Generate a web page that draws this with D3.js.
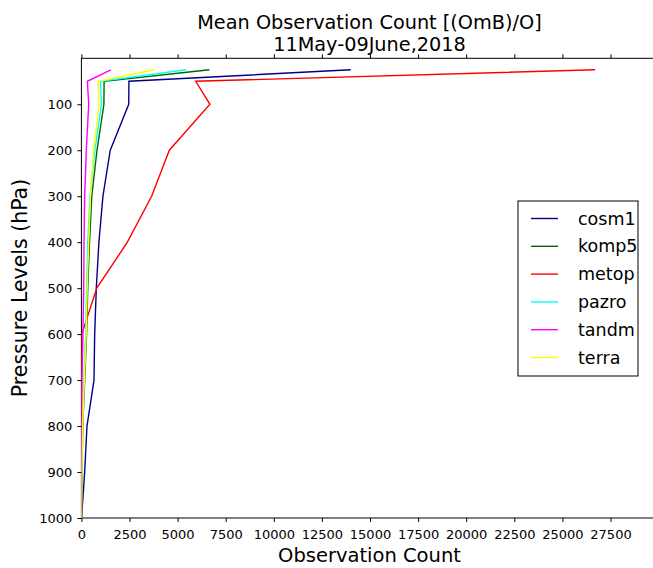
<!DOCTYPE html>
<html>
<head>
<meta charset="utf-8">
<script src="https://cdn.jsdelivr.net/npm/d3@7"></script>
<style>
  html, body { margin: 0; padding: 0; background: #fff; overflow: hidden; }
  svg { display: block; font-family: "DejaVu Sans", sans-serif; }
</style>
</head>
<body>
<svg id="chart" width="653" height="568"></svg>
<script>
// Pressure levels (hPa) shared by every instrument profile
const levels = [25, 50, 100, 200, 300, 400, 500, 600, 700, 800, 900, 1000];

// Mean observation count per level, one array per instrument
const cosm1 = [14000, 2470, 2460, 1500, 1120, 910, 775, 690, 655, 290, 170, 10];
const komp5 = [6650, 1180, 1170, 810, 540, 420, 330, 270, 170, 70, 30, 0];
const metop = [26700, 5940, 6680, 4570, 3650, 2390, 800, 20, 0, 0, 0, 0];
const pazro = [5440, 990, 1040, 700, 450, 330, 270, 220, 130, 50, 20, 0];
const tandm = [1530, 310, 380, 255, 170, 135, 120, 80, 30, 0, 0, 0];
const terra = [3770, 860, 920, 640, 470, 380, 300, 250, 150, 60, 20, 0];

const seriesNames = ["cosm1", "komp5", "metop", "pazro", "tandm", "terra"];
const seriesValues = [cosm1, komp5, metop, pazro, tandm, terra];
const seriesColors = ["#00008b", "#006400", "#ff0000", "#00ffff", "#ff00ff", "#ffff00"];

const xTicks = [0, 2500, 5000, 7500, 10000, 12500, 15000, 17500, 20000, 22500, 25000, 27500];
const yTicks = [100, 200, 300, 400, 500, 600, 700, 800, 900, 1000];

const titleLines = ["Mean Observation Count [(OmB)/O]", "11May-09June,2018"];

const svg = d3.select("#chart");
const margin = { left: 81.4, top: 58.3, right: 658.6, bottom: 518 };

const x = d3.scaleLinear().domain([0, 30000]).range([margin.left, margin.right]);
const y = d3.scaleLinear().domain([0, 1000]).range([margin.top, margin.bottom]);

// Plot frame
svg.append("rect")
  .attr("x", margin.left).attr("y", margin.top)
  .attr("width", margin.right - margin.left)
  .attr("height", margin.bottom - margin.top)
  .attr("fill", "none").attr("stroke", "#000").attr("stroke-width", 1);

// Profiles, clipped to the plot area
svg.append("clipPath").attr("id", "plotclip")
  .append("rect")
  .attr("x", margin.left).attr("y", margin.top)
  .attr("width", margin.right - margin.left)
  .attr("height", margin.bottom - margin.top);

const line = d3.line()
  .x(d => x(d[0]))
  .y(d => y(d[1]));

const plot = svg.append("g").attr("clip-path", "url(#plotclip)");
seriesValues.forEach((vals, i) => {
  plot.append("path")
    .datum(vals.map((v, k) => [v, levels[k]]))
    .attr("d", line)
    .attr("fill", "none")
    .attr("stroke", seriesColors[i])
    .attr("stroke-width", 1.4)
    .attr("stroke-linejoin", "miter");
});

// Axes (ticks point outward on every side)
const xAxisBottom = d3.axisBottom(x).tickValues(xTicks).tickSize(4).tickPadding(8).tickFormat(d3.format("d"));
const xAxisTop = d3.axisTop(x).tickValues(xTicks).tickSize(4).tickFormat("");
const yAxisLeft = d3.axisLeft(y).tickValues(yTicks).tickSize(4).tickPadding(5).tickFormat(d3.format("d"));

function styleAxis(g) {
  g.select(".domain").remove();
  g.selectAll(".tick line").attr("stroke", "#000").attr("stroke-width", 1);
  g.selectAll(".tick text").attr("fill", "#000")
    .style("font-family", "'DejaVu Sans', sans-serif").style("font-size", "13px");
}

svg.append("g").attr("transform", `translate(0,${margin.bottom})`).call(xAxisBottom).call(styleAxis);
svg.append("g").attr("transform", `translate(0,${margin.top})`).call(xAxisTop).call(styleAxis);
svg.append("g").attr("transform", `translate(${margin.left},0)`).call(yAxisLeft).call(styleAxis);

// Axis titles
svg.append("text")
  .attr("x", 369.5)
  .attr("y", 562)
  .attr("text-anchor", "middle")
  .style("font-size", "19.5px")
  .text("Observation Count");

svg.append("text")
  .attr("transform", `translate(27,288) rotate(-90)`)
  .attr("text-anchor", "middle")
  .style("font-size", "20.5px")
  .text("Pressure Levels (hPa)");

// Title
svg.selectAll("text.title")
  .data(titleLines)
  .enter().append("text")
  .attr("class", "title")
  .attr("x", 369.5)
  .attr("y", (d, i) => 29 + i * 22)
  .attr("text-anchor", "middle")
  .style("font-size", "19.3px")
  .text(d => d);

// Legend
const legend = svg.append("g").attr("transform", "translate(518,201)");
legend.append("rect")
  .attr("x", 0).attr("y", 0)
  .attr("width", 120).attr("height", 175)
  .attr("fill", "#fff").attr("stroke", "#000").attr("stroke-width", 1);

seriesNames.forEach((name, i) => {
  const cy = 17.5 + i * 27.8;
  legend.append("line")
    .attr("x1", 13).attr("x2", 40)
    .attr("y1", cy).attr("y2", cy)
    .attr("stroke", seriesColors[i]).attr("stroke-width", 1.4);
  legend.append("text")
    .attr("x", 60).attr("y", cy)
    .attr("dy", "0.35em")
    .style("font-size", "17.5px")
    .text(name);
});
</script>
</body>
</html>
